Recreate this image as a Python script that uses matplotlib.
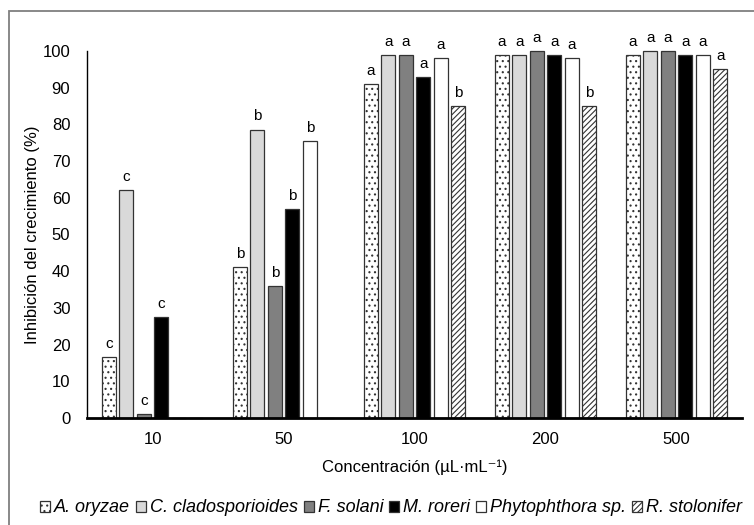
import numpy as np
import matplotlib
matplotlib.use("Agg")
from matplotlib import pyplot as plt
from matplotlib.patches import Rectangle

plt.rcParams["font.family"] = ["Liberation Sans", "DejaVu Sans"]
plt.rcParams["hatch.linewidth"] = 0.8

concentrations = ["10", "50", "100", "200", "500"]
species = ["A. oryzae", "C. cladosporioides", "F. solani", "M. roreri",
           "Phytophthora sp.", "R. stolonifer"]

a_oryzae = [16.5, 41.2, 91.0, 99.0, 99.0]
c_clado = [62.0, 78.6, 99.0, 99.0, 100.0]
f_solani = [1.0, 36.0, 99.0, 100.0, 100.0]
m_roreri = [27.4, 56.9, 92.9, 99.0, 99.0]
phytophthora = [0.0, 75.4, 98.0, 98.0, 99.0]
r_stolonifer = [0.0, 0.0, 84.9, 84.9, 95.0]

letters_a_oryzae = ["c", "b", "a", "a", "a"]
letters_c_clado = ["c", "b", "a", "a", "a"]
letters_f_solani = ["c", "b", "a", "a", "a"]
letters_m_roreri = ["c", "b", "a", "a", "a"]
letters_phytophthora = ["", "b", "a", "a", "a"]
letters_r_stolonifer = ["", "", "b", "b", "a"]

series = [a_oryzae, c_clado, f_solani, m_roreri, phytophthora, r_stolonifer]
letters = [letters_a_oryzae, letters_c_clado, letters_f_solani,
           letters_m_roreri, letters_phytophthora, letters_r_stolonifer]
colors = ["white", "#d9d9d9", "#808080", "black", "white", "white"]
hatches = ["...", None, None, None, None, "//////"]

fig = plt.figure(figsize=(7.54, 5.25), dpi=100)
ax = fig.add_axes([0.1154, 0.2038, 0.8687, 0.6991])

# chart area border (only left and top visible in the crop)
fig.patches.append(Rectangle((9 / 754, -0.1), 1.2, 1 - 11 / 525 + 0.1,
                             transform=fig.transFigure, fill=False,
                             edgecolor="#7f7f7f", linewidth=1.3))

x = np.arange(len(concentrations))
step = 0.1336
width = 0.107
handles = []
for i, (vals, lab) in enumerate(zip(series, letters)):
    pos = x + (i - 2.5) * step
    bars = ax.bar(pos, vals, width, color=colors[i], hatch=hatches[i],
                  edgecolor="#333333", linewidth=0.9, label=species[i],
                  clip_on=False, zorder=2)
    handles.append(bars)
    for p, v, t in zip(pos, vals, lab):
        if t:
            ax.annotate(t, (p, v), xytext=(0, 6.5), textcoords="offset points",
                        ha="center", va="baseline", fontsize=11)

ax.set_xlim(-0.5, 4.5)
ax.set_ylim(0, 100)
ax.set_yticks(np.arange(0, 101, 10))
ax.set_xticks(x)
ax.set_xticklabels(concentrations)
ax.tick_params(length=0, labelsize=12)
ax.tick_params(axis="y", pad=12)
ax.tick_params(axis="x", pad=10)
for s in ["top", "right"]:
    ax.spines[s].set_visible(False)
ax.spines["left"].set_linewidth(1.0)
ax.spines["bottom"].set_linewidth(2.0)
ax.spines["bottom"].set_zorder(3)

ax.set_xlabel("Concentración (µL·mL⁻¹)", fontsize=12, labelpad=9)
ax.set_ylabel("Inhibición del crecimiento (%)", fontsize=12, labelpad=2)

fig.legend(handles=handles, loc="center", bbox_to_anchor=(391 / 754, 1 - 508 / 525),
           ncol=6, frameon=False, handlelength=0.55, handleheight=0.55,
           handletextpad=0.2, columnspacing=0.35,
           prop={"style": "italic", "size": 13})

fig.savefig("out.png", dpi=100)
